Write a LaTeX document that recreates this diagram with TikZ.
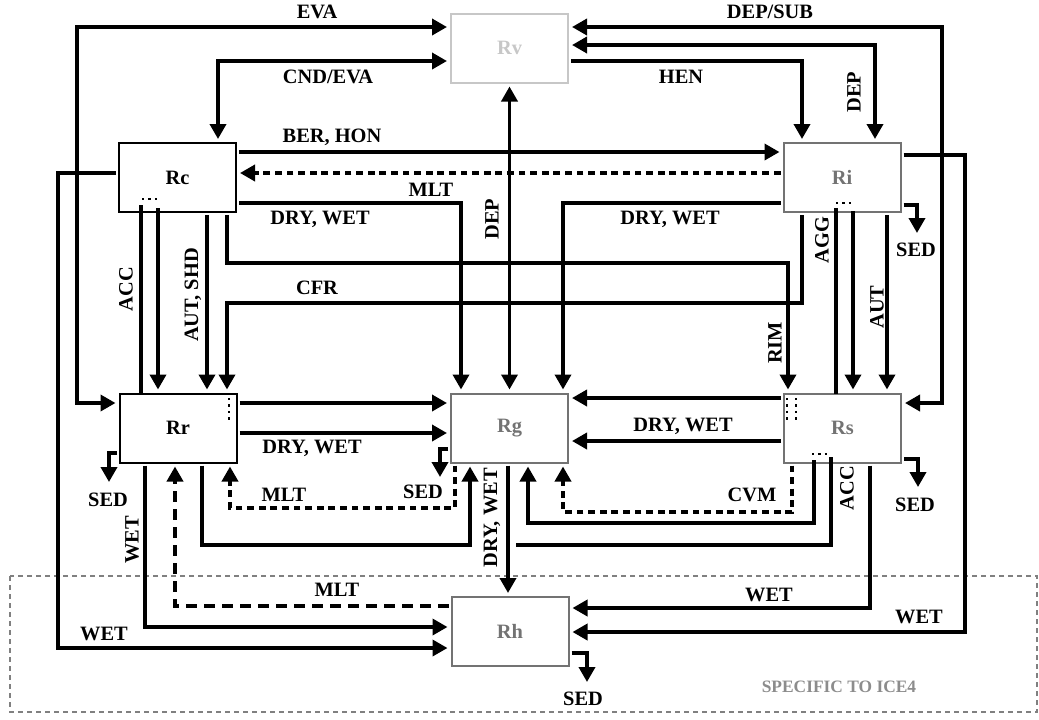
\documentclass[tikz,border=0pt]{standalone}
\usepackage{fontspec}
\setmainfont{Liberation Serif}
\usepackage{tikz}
\usetikzlibrary{arrows.meta}
\definecolor{palegray}{rgb}{0.78,0.78,0.78}
\definecolor{midgray}{rgb}{0.45,0.45,0.45}

\begin{document}
\begin{tikzpicture}[x=0.5pt,y=-0.5pt,
	box/.style={draw,line width=1pt,minimum width=58.5pt,minimum height=34.5pt,inner sep=0pt,outer sep=0pt,font=\fontsize{10.2}{12}\selectfont\bfseries},
	lbl/.style={inner sep=0pt,font=\fontsize{10.2}{12}\selectfont\bfseries},
	flow/.style={line width=1.8pt},
	tip/.style={-{Triangle[length=7.5pt,width=8pt]},shorten >=2pt,shorten <=1.5pt},
	both/.style={{Triangle[length=7.5pt,width=8pt]}-{Triangle[length=7.5pt,width=8pt]},shorten >=2pt,shorten <=2pt},
	shortdash/.style={dash pattern=on 3.4pt off 2.4pt},
	longdash/.style={dash pattern=on 5.5pt off 3.5pt},
	spots/.style={dotted,line width=1.2pt},
	region/.style={draw=black!50,line width=1.3pt,dash pattern=on 2.5pt off 2pt}]
	\useasboundingbox (0,0) rectangle (1039,719);
	\draw[region] (10,576) rectangle (1037,712);
	% species boxes
	\node[box,draw=palegray,text=palegray] (Rv) at (509.5,48) {Rv};
	\node[box] (Rc) at (177.5,177.5) {Rc};
	\node[box,draw=midgray,text=midgray] (Ri) at (842,177.5) {Ri};
	\node[box] (Rr) at (178,428) {Rr};
	\node[box,draw=midgray,text=midgray] (Rg) at (509.5,428) {Rg};
	\node[box,draw=midgray,text=midgray] (Rs) at (842.5,428) {Rs};
	\node[box,draw=midgray,text=midgray] (Rh) at (510,631.5) {Rh};
	% vapour exchanges
	\draw[flow,both] (Rr.west |- 0,403) -| (77,27) -- (Rv.west |- 0,27);
	\draw[flow,both] (Rv.west |- 0,61) -| (218,0 |- Rc.north);
	\draw[flow,both] (Rv.east |- 0,27) -- (942,27) |- (Rs.east |- 0,403);
	\draw[flow,both] (Rv.east |- 0,45) -| (875,0 |- Ri.north);
	\draw[flow,tip] (Rv.east |- 0,61) -| (802,0 |- Ri.north);
	\draw[flow,both] (Rg) -- (Rv);
	% cloud and ice
	\draw[flow,tip] (Rc.east |- 0,152) -- (Ri.west |- 0,152);
	\draw[flow,tip,shortdash] (Ri.west |- 0,173) -- (Rc.east |- 0,173);
	\draw[flow,tip] (Rc.east |- 0,203) -| (461,0 |- Rg.north);
	\draw[flow,tip] (Ri.west |- 0,203) -| (563,0 |- Rg.north);
	\draw[flow,tip] (227,0 |- Rc.south) |- (788,263) -- (788,0 |- Rs.north);
	\draw[flow,tip] (802,0 |- Ri.south) |- (227,303) -- (227,0 |- Rr.north);
	\draw[flow,tip] (207,0 |- Rc.south) -- (207,0 |- Rr.north);
	\draw[flow] (141,205) -- (141,0 |- Rr.north);
	\draw[flow,tip] (158,205) -- (158,0 |- Rr.north);
	\draw[flow] (836,208) -- (836,0 |- Rs.north);
	\draw[flow,tip] (853,208) -- (853,0 |- Rs.north);
	\draw[flow,tip] (887,0 |- Ri.south) -- (887,0 |- Rs.north);
	\draw[flow,tip] (Ri.east |- 0,205) -| (917,237);
	\draw[flow,tip] (Ri.east |- 0,155) -| (965,632) -- (Rh.east |- 0,632);
	\draw[flow,tip] (Rc.west |- 0,173) -| (58,648) -- (Rh.west |- 0,648);
	% rain, graupel, snow
	\draw[flow,tip] (145,0 |- Rr.south) |- (Rh.west |- 0,627);
	\draw[flow,tip,longdash] (Rh.west |- 0,606) -| (175,0 |- Rr.south);
	\draw[flow,tip] (202,0 |- Rr.south) |- (470,545) -- (470,0 |- Rg.south);
	\draw[flow,tip,shortdash] (455,0 |- Rg.south) |- (230,508) -- (230,0 |- Rr.south);
	\draw[flow,tip] (Rg.west |- 0,449) -| (440,481);
	\draw[flow,tip] (Rr.west |- 0,453) -| (109,486);
	\draw[flow,tip] (Rr.east |- 0,403) -- (Rg.west |- 0,403);
	\draw[flow,tip] (Rr.east |- 0,433) -- (Rg.west |- 0,433);
	\draw[flow,tip] (Rs.west |- 0,398) -- (Rg.east |- 0,398);
	\draw[flow,tip] (Rs.west |- 0,441) -- (Rg.east |- 0,441);
	\draw[flow,tip] (814,457) |- (528,523) -- (528,0 |- Rg.south);
	\draw[flow] (831,457) |- (516,545);
	\draw[flow,tip,shortdash] (792,0 |- Rs.south) |- (563,512) -- (563,0 |- Rg.south);
	\draw[flow,tip] (870,0 |- Rs.south) |- (Rh.east |- 0,608);
	\draw[flow,tip] (Rs.east |- 0,459) -| (918,491);
	\draw[flow,tip] (Rh.east |- 0,653) -| (587,686);
	\draw[flow,tip] (508,0 |- Rg.south) -- (508,0 |- Rh.north);
	% several species
	\draw[spots] (142,199) -- (158,199);
	\draw[spots] (836,203) -- (853,203);
	\draw[spots] (812,454) -- (831,454);
	\draw[spots] (229,398) -- (229,421);
	\draw[spots] (787,398) -- (787,421);
	\draw[spots] (796,398) -- (796,421);
	% process names
	\node[lbl] (lEVA) at (317,12) {EVA};
	\node[lbl] (lCND) at (328,77) {CND/EVA};
	\node[lbl] (lDEPSUB) at (770,12) {DEP/SUB};
	\node[lbl] (lHEN) at (681,77) {HEN};
	\node[lbl,rotate=90] (lDEPi) at (854,92) {DEP};
	\node[lbl,rotate=90] (lDEPg) at (492,219) {DEP};
	\node[lbl] (lBER) at (332,137) {BER, HON};
	\node[lbl] (lMLTc) at (431,190) {MLT};
	\node[lbl] (lDWc) at (320,219) {DRY, WET};
	\node[lbl] (lDWi) at (670,219) {DRY, WET};
	\node[lbl] (lCFR) at (317,288) {CFR};
	\node[lbl,rotate=90] (lACCr) at (126,289) {ACC};
	\node[lbl,rotate=90] (lAUTr) at (193,295) {AUT, SHD};
	\node[lbl,rotate=90] (lAGG) at (822,240) {AGG};
	\node[lbl,rotate=90] (lAUTs) at (877,307) {AUT};
	\node[lbl,rotate=90] (lRIM) at (775,343) {RIM};
	\node[lbl] (lSEDi) at (916,250) {SED};
	\node[lbl] (lDWr) at (312,448) {DRY, WET};
	\node[lbl] (lDWs) at (683,426) {DRY, WET};
	\node[lbl] (lSEDr) at (108,500) {SED};
	\node[lbl] (lMLTr) at (284,495) {MLT};
	\node[lbl] (lSEDg) at (423,492) {SED};
	\node[lbl] (lCVM) at (752,495) {CVM};
	\node[lbl] (lSEDs) at (915,505) {SED};
	\node[lbl,rotate=90] (lACCs) at (847,488) {ACC};
	\node[lbl,rotate=90] (lDWg) at (492,518) {DRY, WET};
	\node[lbl,rotate=90] (lWETr) at (132,540) {WET};
	\node[lbl] (lMLTh) at (337,590) {MLT};
	\node[lbl] (lWETc) at (104,634) {WET};
	\node[lbl] (lWETs) at (769,595) {WET};
	\node[lbl] (lWETi) at (919,617) {WET};
	\node[lbl] (lSEDh) at (583,699) {SED};
	\node[lbl,text=black!45,font=\fontsize{8.7}{10}\selectfont\bfseries] (lICE4) at (839,687) {SPECIFIC TO ICE4};
\end{tikzpicture}
\end{document}
